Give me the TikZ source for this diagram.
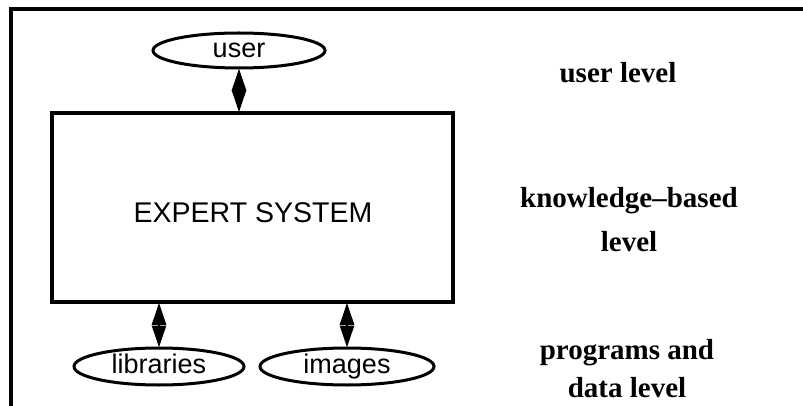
\documentclass[tikz,border=0pt]{standalone}
\usepackage{fontspec}
\setmainfont{Liberation Serif}
\setsansfont{Liberation Sans}
\usetikzlibrary{shapes.geometric,arrows.meta}
\begin{document}
\begin{tikzpicture}[x=1pt,y=-1pt,
  framestyle/.style={line width=3.5pt},
  oval/.style={ellipse,draw,line width=3pt,inner sep=0pt,text height=19pt,text depth=5pt,font=\sffamily\fontsize{27}{32}\selectfont},
  sysbox/.style={draw,line width=3.5pt,inner sep=0pt},
  lvl/.style={font=\bfseries\fontsize{29}{44}\selectfont,align=center,inner sep=0pt},
  link/.style={line width=2.5pt,{Triangle[width=14pt,length=22pt]}-{Triangle[width=14pt,length=22pt]},shorten <=-1pt,shorten >=-1pt}]
\useasboundingbox (0,0) rectangle (803,406);
\coordinate (ftl) at (11,9);
\coordinate (ftr) at (805,9);
\coordinate (fbl) at (11,408);
\draw[framestyle] (fbl) -- (ftl) -- (ftr);
\node[sysbox,minimum width=401pt,minimum height=189pt] (es) at (252.5,207.5) {};
\node[font=\sffamily\fontsize{28.5}{34}\selectfont] (estext) at (253,213) {EXPERT SYSTEM};
\node[oval,minimum width=172pt,minimum height=35pt] (user) at (239,50.5) {user};
\node[oval,minimum width=170pt,minimum height=37pt] (lib) at (159,366.5) {libraries};
\node[oval,minimum width=174pt,minimum height=37pt] (img) at (347,366.5) {images};
\draw[link] (user.south) -- (user.south |- es.north);
\draw[link] (lib.north |- es.south) -- (lib.north);
\draw[link] (img.north |- es.south) -- (img.north);
\node[lvl] (l1) at (618,73) {user level};
\node[lvl] (l2) at (629,220) {knowledge--based\\level};
\node[lvl,font=\bfseries\fontsize{29}{38}\selectfont] (l3) at (627,369) {programs and\\data level};
\end{tikzpicture}
\end{document}
